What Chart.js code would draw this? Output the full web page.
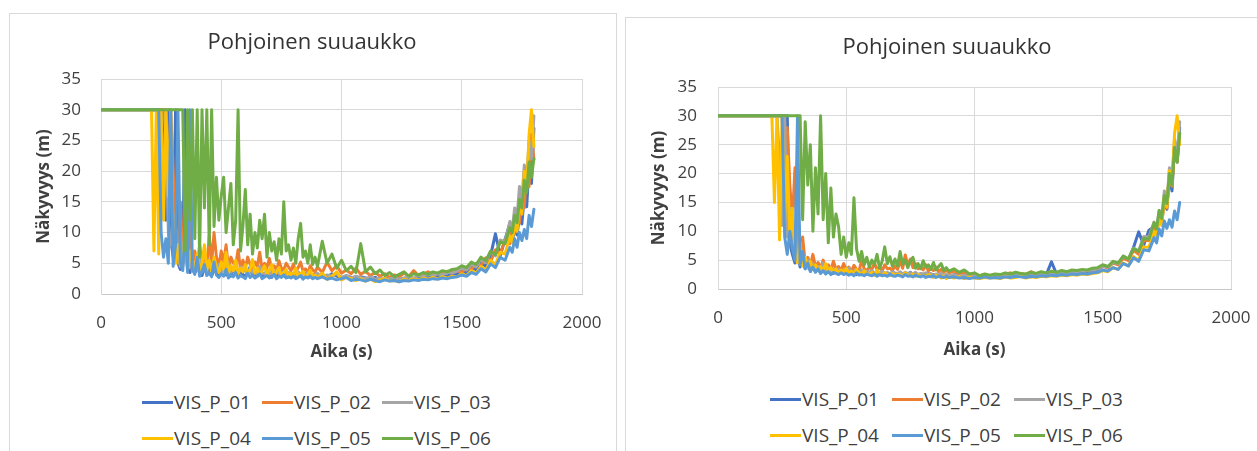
<!DOCTYPE html>
<html>
<head>
<meta charset="utf-8">
<title>Pohjoinen suuaukko</title>
<script src="https://cdn.jsdelivr.net/npm/chart.js@4.4.0/dist/chart.umd.min.js"></script>
<style>
  html, body { margin: 0; padding: 0; background: #fff; }
  body { width: 1257px; height: 451px; overflow: hidden; position: relative; font-family: "Open Sans", sans-serif; }
  .frame { position: absolute; border: 1px solid #d9d9d9; background: #fff; overflow: hidden; }
  .frame canvas { position: absolute; left: 0; top: 0; }
  .legend { position: absolute; display: flex; flex-wrap: wrap; color: #404040; font-size: 19px; }
  .legend .item { display: flex; align-items: center; white-space: nowrap; }
  .legend .swatch { display: inline-block; width: 31px; height: 3px; margin-right: 1px; }
</style>
</head>
<body>

<div class="frame" style="left:9px; top:13px; width:606px; height:450px;">
  <canvas id="chartA" width="604" height="360"></canvas>
  <div class="legend" id="legendA" style="left:132px; top:370px; width:360px;"></div>
</div>

<div class="frame" style="left:625px; top:17px; width:650px; height:450px;">
  <canvas id="chartB" width="642" height="360"></canvas>
  <div class="legend" id="legendB" style="left:144px; top:363px; width:366px;"></div>
</div>

<script>
/* ─── Data – time axis (s) shared by both charts ─────────────── */
const timeS = [
  0, 200, 210, 220, 230, 240, 250, 260, 270, 280,
  290, 300, 310, 320, 330, 340, 350, 360, 370, 380,
  390, 400, 410, 420, 430, 440, 450, 460, 470, 480,
  490, 500, 510, 520, 530, 540, 550, 560, 570, 580,
  590, 600, 610, 620, 630, 640, 650, 660, 670, 680,
  690, 700, 710, 720, 730, 740, 750, 760, 770, 780,
  790, 800, 810, 820, 830, 840, 850, 860, 870, 880,
  890, 900, 920, 940, 960, 980, 1000, 1020, 1040, 1060,
  1080, 1100, 1120, 1140, 1160, 1180, 1200, 1220, 1240, 1260,
  1280, 1300, 1320, 1340, 1360, 1380, 1400, 1420, 1440, 1460,
  1480, 1500, 1520, 1540, 1560, 1580, 1600, 1620, 1640, 1660,
  1680, 1700, 1710, 1720, 1730, 1740, 1750, 1760, 1770, 1780,
  1790, 1800
];

const seriesNames  = ['VIS_P_01', 'VIS_P_02', 'VIS_P_03', 'VIS_P_04', 'VIS_P_05', 'VIS_P_06'];
const seriesColors = ['#4472C4', '#ED7D31', '#A5A5A5', '#FFC000', '#5B9BD5', '#70AD47'];

const yTicks = [0, 5, 10, 15, 20, 25, 30, 35];
const xTicks = [0, 500, 1000, 1500, 2000];

/* ─── Näkyvyys (m), left chart ───────────────────────────────── */
const visA_P01 = [
  30, 30, 30, 30, 30, 30, 30, 30, 12, 30,
  9, 6, 30, 5, 4, 7, 30, 4, 3.5, 5,
  3.5, 4, 6, 3, 4.5, 3.2, 5, 3, 3.8, 4.2,
  3, 3.5, 4.8, 3.1, 3.6, 2.9, 4.2, 3.3, 3, 3.9,
  3.2, 2.8, 3.6, 4.4, 3, 3.3, 2.9, 3.7, 3.1, 2.8,
  3.4, 3, 2.7, 3.6, 3.1, 2.9, 3.9, 3, 2.8, 3.3,
  2.9, 3.2, 2.7, 3.5, 3, 2.8, 3.3, 2.7, 3.1, 2.9,
  3.2, 2.8, 3.1, 2.7, 3.3, 2.9, 2.6, 3, 2.7, 2.5,
  2.8, 2.6, 2.4, 2.7, 2.3, 2.6, 2.4, 2.2, 2.5, 2.3,
  2.6, 2.4, 2.7, 2.9, 2.6, 3, 2.8, 3.1, 2.9, 3.3,
  3.2, 3.9, 3.4, 4.4, 3.9, 5.1, 4.5, 6.3, 9.8, 6.2,
  8.9, 11.5, 8.4, 10.6, 9.6, 12.8, 11.4, 16, 14.2, 21,
  18, 27
];
const visA_P02 = [
  30, 30, 30, 30, 30, 30, 30, 30, 26, 14,
  30, 20, 11, 7, 15, 6, 9, 4.5, 12, 5,
  7, 4.2, 8, 5, 6.5, 4, 9.5, 5, 10, 6,
  4.5, 7, 5, 8, 4.2, 6, 5, 4.6, 7.2, 4,
  5.5, 4.2, 6, 4.8, 3.9, 5.2, 4.5, 6.8, 4, 5,
  4.3, 5.8, 4, 4.6, 3.8, 5.4, 4.2, 3.9, 5, 4.4,
  3.8, 4.9, 3.6, 4.3, 5.2, 3.7, 4.1, 3.5, 4.6, 3.9,
  3.6, 4.4, 3.5, 5.2, 3.8, 4.6, 3.4, 3.9, 3.3, 4.2,
  3.2, 3.7, 3, 3.5, 2.9, 3.3, 2.7, 3.1, 2.8, 3.4,
  2.9, 3.8, 3, 3.2, 3.6, 3.1, 3.4, 3.3, 3.7, 3.5,
  3.8, 3.5, 4.4, 4, 5, 4.6, 5.9, 5.3, 7.2, 6.5,
  8.9, 8.2, 11.2, 9.8, 13, 11.6, 15.8, 14, 20, 17.5,
  26, 22
];
const visA_P03 = [
  30, 30, 30, 30, 30, 30, 22, 16, 30, 10,
  8, 13, 6, 5, 10, 4.5, 7, 4, 5.5, 3.8,
  5, 4, 6.2, 3.6, 4.4, 3.5, 5.6, 3.8, 4.2, 3.6,
  4.8, 3.4, 4.1, 3.9, 5.2, 3.5, 4, 3.7, 3.3, 4.4,
  3.6, 3.9, 3.2, 4.2, 3.5, 3.8, 3.1, 4.5, 3.4, 3.3,
  3.8, 3.2, 3.6, 3, 3.9, 3.3, 3.1, 3.7, 3.2, 3.5,
  3, 3.4, 3.1, 3.6, 2.9, 3.3, 3, 3.5, 2.8, 3.2,
  3, 3.4, 2.8, 3.1, 2.9, 3.3, 2.7, 3, 2.6, 2.9,
  2.7, 2.5, 2.8, 2.4, 2.6, 2.3, 2.5, 2.7, 2.4, 2.6,
  2.8, 2.6, 3, 2.9, 3.2, 3, 3.3, 3.1, 3.5, 3.4,
  3.7, 4.2, 3.9, 4.8, 4.4, 5.7, 5.1, 6.9, 6.2, 8.8,
  8.4, 11.8, 10.5, 14, 12.6, 17.5, 15.4, 21, 18.6, 25,
  22, 29
];
const visA_P04 = [
  30, 30, 30, 7, 30, 6.5, 30, 12, 30, 16,
  30, 9, 5, 8, 4.5, 6, 10, 4, 7, 5,
  4.2, 6.5, 3.8, 5, 8, 4, 5.5, 3.6, 6, 4.4,
  3.5, 5.2, 4, 6.8, 3.4, 4.6, 3.8, 5.5, 3.3, 4.2,
  3.6, 4.8, 3.2, 4, 5.6, 3.4, 4.2, 3.1, 3.8, 4.6,
  3.2, 3.9, 4.8, 3, 3.6, 4.3, 3.1, 3.5, 4, 2.9,
  3.4, 3, 4.2, 2.8, 3.3, 3.7, 2.7, 3.2, 3.9, 2.8,
  3.1, 2.6, 3.4, 2.4, 2.9, 3.6, 2.3, 2.7, 2.5, 2.2,
  2.5, 2.1, 2.4, 2, 2.3, 2.6, 2.1, 2.2, 2, 2.4,
  2.2, 2.5, 2.3, 2.6, 2.4, 2.7, 2.5, 2.8, 2.6, 2.9,
  2.8, 3.3, 3, 3.8, 3.4, 4.5, 3.9, 5.5, 4.8, 6.8,
  6.5, 9.4, 8.3, 11.8, 10.2, 15, 13, 20, 17, 26,
  30, 24
];
const visA_P05 = [
  30, 30, 30, 30, 30, 30, 10, 6, 9, 5,
  30, 4.5, 8, 30, 5, 3.8, 11, 3.5, 30, 4,
  3.2, 6, 2.9, 3.6, 4.8, 3, 3.4, 2.8, 5.2, 3.1,
  2.7, 3.3, 2.9, 4, 2.6, 3.2, 2.8, 3.5, 2.6, 3,
  2.8, 2.5, 3.4, 2.7, 3.1, 2.6, 2.9, 3.3, 2.5, 2.8,
  3, 2.6, 2.8, 3.2, 2.5, 2.9, 2.7, 3.1, 2.6, 2.8,
  2.6, 2.9, 2.5, 2.7, 3, 2.4, 2.8, 2.6, 2.9, 2.5,
  2.7, 2.5, 2.8, 2.4, 2.6, 2.3, 2.5, 2.7, 2.2, 2.4,
  2.3, 2.1, 2.4, 2.2, 2, 2.3, 2.1, 2.2, 2, 2.2,
  2.1, 2.3, 2.2, 2.4, 2.3, 2.5, 2.4, 2.6, 2.5, 2.7,
  2.8, 3.1, 2.9, 3.5, 3.2, 4.1, 3.6, 4.9, 4.3, 6,
  5.5, 7.6, 6.8, 9, 7.6, 10, 8.7, 10.5, 9, 12.8,
  11, 13.8
];
const visA_P06 = [
  30, 30, 30, 30, 30, 30, 30, 30, 30, 30,
  30, 30, 30, 30, 30, 30, 7, 30, 12, 30,
  9, 30, 6, 30, 14, 30, 8, 30, 11, 19,
  12, 16, 19, 10, 14, 18, 8, 12, 30, 7,
  11, 17, 8, 13, 6.5, 10, 7.5, 12, 9, 13,
  6, 10, 7, 8.5, 5.5, 9, 6.5, 15, 7, 8,
  5.5, 7.5, 5, 9, 11.5, 6, 7, 5, 8, 4.8,
  6, 4.5, 8.6, 5, 6.5, 4.2, 5.5, 3.8, 4.5, 3.5,
  8.2, 3.6, 4.4, 3.3, 3.9, 3, 3.5, 2.8, 3.2, 3.6,
  2.9, 3.3, 3.1, 3.5, 3.2, 3.6, 3.4, 3.8, 3.6, 4,
  4.1, 4.6, 4.3, 5.2, 4.8, 6, 5.4, 7, 6.4, 8.5,
  8.2, 10.8, 10, 12.8, 11.6, 15.4, 14, 18.5, 16.5, 21.5,
  19, 22
];

/* ─── Näkyvyys (m), right chart ──────────────────────────────── */
const visB_P01 = [
  30, 30, 30, 30, 30, 30, 30, 30, 30, 8,
  6, 4.5, 7, 3.8, 5, 3.5, 4.2, 3.2, 3.9, 3,
  3.4, 2.9, 3.6, 2.8, 3.2, 3, 2.7, 3.3, 2.6, 3,
  2.8, 3.1, 2.6, 2.9, 3.2, 2.5, 2.8, 2.7, 3, 2.5,
  2.7, 2.9, 2.5, 2.8, 2.6, 3, 2.5, 2.7, 2.4, 2.8,
  2.6, 2.5, 2.8, 2.4, 2.7, 2.5, 2.9, 2.4, 2.6, 2.5,
  2.3, 2.6, 2.4, 2.7, 2.2, 2.5, 2.4, 2.3, 2.6, 2.2,
  2.4, 2.2, 2.5, 2.3, 2.1, 2.4, 2.2, 2, 2.3, 2.1,
  2.2, 2, 2.3, 2.1, 2.4, 2.2, 2.3, 2.1, 2.4, 2.3,
  2.5, 4.7, 2.6, 2.8, 2.7, 3, 2.9, 3.1, 3, 3.3,
  3.4, 4, 3.7, 4.7, 4.3, 5.6, 5.1, 7.2, 9.9, 7.6,
  10.2, 10.8, 9.6, 12.8, 11.5, 15.4, 13.8, 19.5, 17, 25,
  22, 28
];
const visB_P02 = [
  30, 30, 30, 30, 30, 30, 30, 20, 28, 18,
  12, 21, 8, 6, 9, 4.5, 5.5, 4, 6, 3.8,
  4.6, 3.6, 5, 3.5, 4.2, 3.3, 4.8, 3.4, 3.9, 3.2,
  4.4, 3.3, 3.8, 3, 4.1, 3.4, 3.1, 5, 3.5, 3.2,
  3.8, 3.4, 4.5, 3.3, 3.9, 3.1, 4.2, 3.5, 3.6, 3.2,
  4, 3.4, 4.8, 3.6, 5.9, 4.2, 5.2, 3.7, 4.4, 3.5,
  3.9, 3.3, 4.2, 3.1, 3.6, 3.2, 3.8, 3, 3.4, 2.9,
  3.3, 2.8, 3.1, 2.7, 2.9, 2.5, 2.6, 2.3, 2.5, 2.2,
  2.4, 2.3, 2.6, 2.8, 2.4, 2.7, 2.5, 3, 2.6, 2.8,
  2.7, 2.9, 2.6, 2.8, 3, 2.9, 3.1, 3, 3.2, 3.3,
  3.5, 3.9, 3.7, 4.5, 4.2, 5.3, 4.9, 6.7, 6, 8.4,
  8.4, 10.8, 9.8, 12.6, 11.4, 15.6, 14, 20, 17.8, 24.5,
  22, 27
];
const visB_P03 = [
  30, 30, 30, 30, 30, 22, 11, 30, 9, 14,
  7, 10, 5.5, 4.8, 6, 4.2, 5, 3.7, 4.4, 3.5,
  3.9, 3.3, 4.5, 3.2, 3.7, 3, 3.5, 3.1, 3.4, 2.9,
  3.3, 3, 3.6, 2.8, 3.2, 3, 2.9, 3.3, 2.8, 3.1,
  2.9, 3.2, 2.7, 3, 2.8, 3.1, 2.7, 2.9, 2.6, 3,
  2.8, 2.7, 3, 2.6, 2.9, 2.7, 2.8, 2.6, 2.9, 2.5,
  2.7, 2.6, 2.8, 2.5, 2.7, 2.4, 2.6, 2.5, 2.7, 2.4,
  2.5, 2.3, 2.5, 2.2, 2.4, 2.1, 2.3, 2.1, 2.2, 2,
  2.2, 2.1, 2.3, 2.2, 2.4, 2.3, 2.2, 2.4, 2.3, 2.5,
  2.6, 2.5, 2.7, 2.8, 2.7, 2.9, 3, 3.1, 3.2, 3.3,
  3.5, 4, 3.8, 4.6, 4.4, 5.7, 5.2, 7.1, 6.6, 9.1,
  9, 11.6, 10.6, 13.6, 12.2, 17, 15.2, 21, 19, 26,
  23, 29
];
const visB_P04 = [
  30, 30, 30, 15, 30, 8.5, 30, 12, 23, 9,
  14, 6, 4.5, 8, 4, 5.5, 3.6, 4.8, 3.4, 4.2,
  3.3, 3.9, 3, 4.4, 3.2, 3.7, 2.9, 3.5, 2.8, 3.3,
  2.9, 3.6, 2.7, 3.1, 2.6, 3.4, 2.8, 2.5, 3.2, 2.6,
  2.5, 2.9, 2.4, 3.3, 2.6, 2.3, 2.8, 2.5, 2.4, 2.7,
  2.3, 2.6, 2.5, 2.2, 2.8, 2.4, 2.3, 2.6, 2.2, 2.5,
  2.2, 2.4, 2.1, 2.5, 2.3, 2, 2.4, 2.2, 1.9, 2.3,
  1.8, 2.1, 1.9, 2.2, 1.8, 2.1, 1.9, 1.8, 2, 1.9,
  2, 1.8, 2.1, 1.9, 2, 2.2, 1.9, 2.1, 2, 2.2,
  2.1, 2.3, 2.2, 2.4, 2.3, 2.5, 2.4, 2.6, 2.5, 2.7,
  2.8, 3.2, 3, 3.7, 3.4, 4.5, 4, 5.6, 5, 7.3,
  7.2, 10, 9, 12.6, 11, 16, 14.2, 20.5, 18, 27,
  30, 25
];
const visB_P05 = [
  30, 30, 30, 30, 30, 30, 30, 9, 6, 10,
  7, 5, 30, 4.2, 6.5, 3.5, 4.5, 3, 3.8, 2.9,
  3.5, 2.7, 3.2, 2.6, 3, 2.5, 2.9, 2.7, 2.5, 2.8,
  2.5, 2.7, 2.4, 2.6, 2.3, 2.8, 2.4, 2.5, 2.3, 2.6,
  2.4, 2.3, 2.6, 2.2, 2.5, 2.3, 2.4, 2.2, 2.6, 2.3,
  2.2, 2.4, 2.3, 2.1, 2.5, 2.2, 2.3, 2.1, 2.4, 2.2,
  2.1, 2.3, 2, 2.2, 2.1, 2.3, 2, 2.2, 2.1, 2,
  2.2, 2, 2.1, 1.9, 2, 1.8, 2, 1.9, 2.1, 1.9,
  2, 1.9, 2.1, 2, 2.2, 2.1, 2, 2.2, 2.1, 2.3,
  2.2, 2.4, 2.3, 2.5, 2.4, 2.6, 2.5, 2.7, 2.6, 2.8,
  2.9, 3.3, 3.1, 3.7, 3.4, 4.4, 4, 5.4, 4.8, 6.8,
  6.6, 8.9, 8, 10.4, 9.2, 11.8, 10.5, 12, 10.7, 13.5,
  12, 15
];
const visB_P06 = [
  30, 30, 30, 30, 30, 30, 30, 30, 30, 30,
  30, 30, 30, 30, 12, 29, 18, 25, 10, 21,
  13, 30, 12, 20, 8, 17.5, 9, 13, 10.8, 6,
  9, 5.5, 8, 6, 15.8, 7, 4.8, 6.5, 4.2, 5.5,
  3.8, 5, 4.2, 6, 3.6, 4.8, 7.3, 4.4, 5.6, 3.9,
  5.2, 4, 6.5, 4.3, 5, 3.7, 4.8, 5.5, 3.6, 4.4,
  3.5, 4.9, 3.8, 4.2, 3.4, 4.6, 3.3, 3.9, 4.4, 3.2,
  3.7, 3.1, 3.5, 2.9, 3.3, 2.6, 2.8, 2.3, 2.6, 2.4,
  2.6, 2.5, 2.8, 2.6, 2.9, 2.7, 2.6, 2.9, 2.7, 3,
  2.8, 3.1, 2.9, 3.2, 3, 3.3, 3.2, 3.4, 3.3, 3.6,
  3.7, 4.2, 3.9, 4.8, 4.5, 5.7, 5.2, 7, 6.5, 8.8,
  8.6, 11.5, 10.4, 13.6, 12.2, 16.2, 14.8, 20, 18, 24.5,
  22, 27
];

/* ─── Styling ────────────────────────────────────────────────── */
const FONT = '"Open Sans", sans-serif';
const TEXT = '#404040';
const GRID = '#d9d9d9';

/* per-chart box sizes so the plot areas line up with the frames */
const layoutA = { titleTop: 15.8, titleBottom: 22.8, xAxisH: 80, xTitleBottom: 11.8, yAxisW: 91, yTickPad: 20, yTitleTop: 24, padRight: 32 };
const layoutB = { titleTop: 16.8, titleBottom: 25.8, xAxisH: 89, xTitleBottom: 17.8, yAxisW: 92, yTickPad: 21, yTitleTop: 23, padRight: 37 };

function buildChart(canvasId, legendId, seriesSet, lay) {
  const datasets = seriesSet.map((vals, i) => ({
    label: seriesNames[i],
    data: vals.map((v, k) => ({ x: timeS[k], y: v })),
    borderColor: seriesColors[i],
    backgroundColor: seriesColors[i],
    borderWidth: 3,
    borderJoinStyle: 'round',
    borderCapStyle: 'round',
    pointRadius: 0,
    tension: 0,
    order: seriesSet.length - i      // later series painted on top
  }));

  const chart = new Chart(document.getElementById(canvasId), {
    type: 'line',
    data: { datasets },
    options: {
      responsive: false,
      animation: false,
      events: [],
      layout: { padding: 0 },
      plugins: {
        legend: { display: false },
        tooltip: { enabled: false },
        title: {
          display: true,
          text: 'Pohjoinen suuaukko',
          color: '#333',
          font: { family: FONT, size: 22, weight: 'normal' },
          padding: { top: lay.titleTop, bottom: lay.titleBottom }
        }
      },
      scales: {
        x: {
          type: 'linear',
          min: xTicks[0],
          max: xTicks[xTicks.length - 1],
          afterBuildTicks: s => { s.ticks = xTicks.map(v => ({ value: v })); },
          ticks: { padding: 19, color: TEXT, font: { family: FONT, size: 17 }, maxRotation: 0, callback: v => String(v) },
          grid: { color: GRID, drawTicks: false },
          border: { color: '#c9c9c9' },
          title: { display: true, text: 'Aika (s)', color: TEXT, font: { family: FONT, size: 17, weight: 'bold' }, padding: { top: 0, bottom: lay.xTitleBottom } },
          afterFit: s => { s.height = lay.xAxisH; s.paddingLeft = 0; s.paddingRight = lay.padRight; }
        },
        y: {
          min: yTicks[0],
          max: yTicks[yTicks.length - 1],
          afterBuildTicks: s => { s.ticks = yTicks.map(v => ({ value: v })); },
          ticks: { padding: lay.yTickPad, color: TEXT, font: { family: FONT, size: 17 }, callback: v => String(v) },
          grid: { color: GRID, drawTicks: false },
          border: { color: GRID },
          title: { display: true, text: 'Näkyvyys (m)', color: TEXT, font: { family: FONT, size: 17, weight: 'bold' }, padding: { top: lay.yTitleTop, bottom: 0 } },
          afterFit: s => { s.width = lay.yAxisW; s.paddingTop = 0; s.paddingBottom = 0; }
        }
      }
    }
  });

  /* two-row legend under the plot */
  const box = document.getElementById(legendId);
  const itemW = parseFloat(box.style.width) / 3;
  chart.data.datasets.forEach(ds => {
    const item = document.createElement('div');
    item.className = 'item';
    item.style.width = itemW + 'px';
    item.style.height = '36px';
    const sw = document.createElement('span');
    sw.className = 'swatch';
    sw.style.background = ds.borderColor;
    const txt = document.createElement('span');
    txt.textContent = ds.label;
    item.append(sw, txt);
    box.appendChild(item);
  });
  return chart;
}

buildChart('chartA', 'legendA', [visA_P01, visA_P02, visA_P03, visA_P04, visA_P05, visA_P06], layoutA);
buildChart('chartB', 'legendB', [visB_P01, visB_P02, visB_P03, visB_P04, visB_P05, visB_P06], layoutB);
</script>
</body>
</html>
